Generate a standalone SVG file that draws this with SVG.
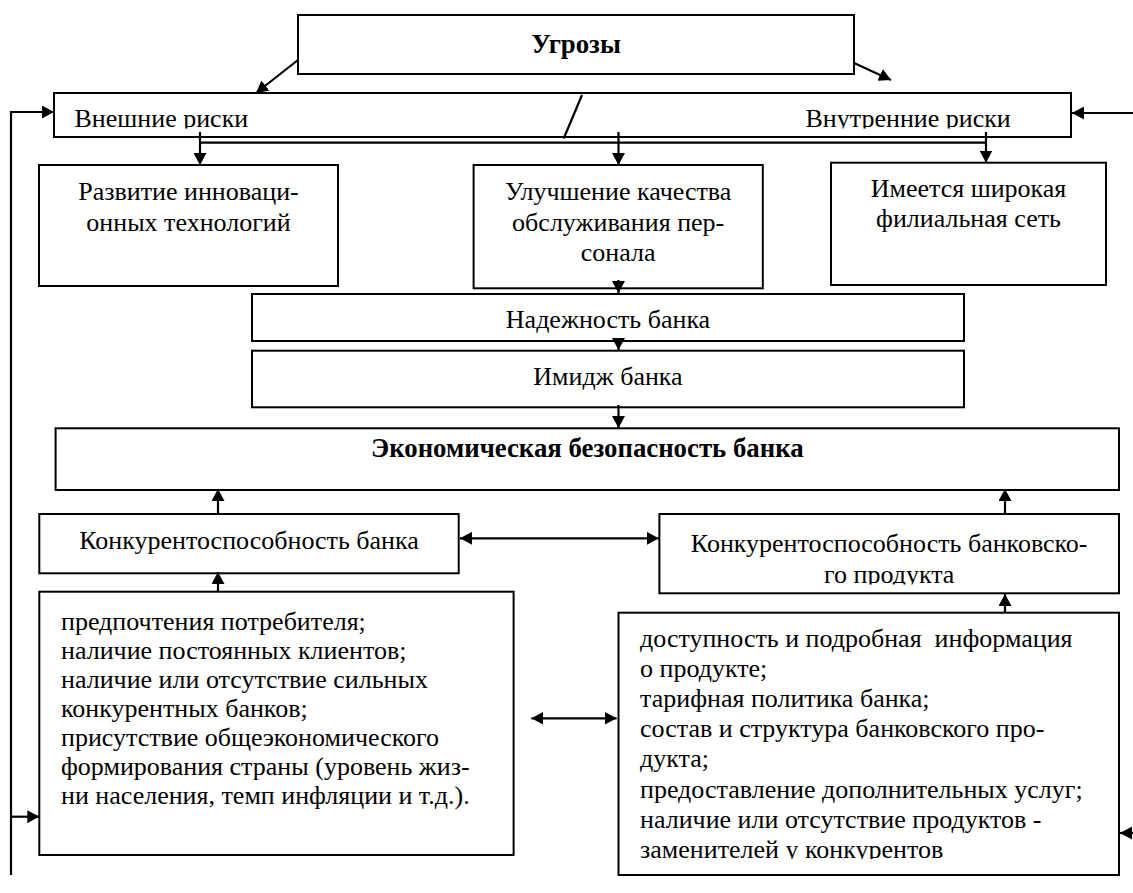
<svg xmlns="http://www.w3.org/2000/svg" width="1133" height="893" viewBox="0 0 1133 893">
<style>
.box{fill:#fff;stroke:#000;stroke-width:2}
.t{font-family:"Liberation Serif","Tinos","Times New Roman","DejaVu Serif",serif;font-size:26px;fill:#000}
.c{text-anchor:middle}
.b{font-weight:bold;font-size:26.8px}
.ln{stroke:#000;stroke-width:2.2;fill:none}
</style>
<defs>
<marker id="ah" viewBox="0 0 12 13" refX="12" refY="6.5" markerWidth="12" markerHeight="13" orient="auto-start-reverse" markerUnits="userSpaceOnUse"><path d="M0,0 L12,6.5 L0,13 z" fill="#000"/></marker>
<clipPath id="clipRisk"><rect x="54" y="93" width="1017" height="35.5"/></clipPath>
<clipPath id="clipKBP"><rect x="659" y="514" width="460" height="70.5"/></clipPath>
<clipPath id="clipRB"><rect x="618" y="612" width="501" height="247"/></clipPath>
</defs>
<rect width="1133" height="893" fill="#fff"/>
<g font-family="Liberation Serif, Tinos, Times New Roman, serif">
<g id="threats"><rect class="box" x="298" y="15" width="556" height="59"/><text class="t c b" x="576" y="53">Угрозы</text></g>
<g id="risks"><rect class="box" x="54" y="93" width="1017" height="44"/>
<g clip-path="url(#clipRisk)"><text class="t" x="74.5" y="127">Внешние риски</text><text class="t" x="805.5" y="127">Внутренние риски</text></g></g>
<g id="innov"><rect class="box" x="39" y="165" width="299" height="121"/><text class="t c" x="188.5" y="200">Развитие инноваци-</text><text class="t c" x="188.5" y="231">онных технологий</text></g>
<g id="quality"><rect class="box" x="473.6" y="165" width="289.2" height="123.3"/><text class="t c" x="618.2" y="200">Улучшение качества</text><text class="t c" x="618.2" y="231">обслуживания пер-</text><text class="t c" x="618.2" y="261">сонала</text></g>
<g id="network"><rect class="box" x="831" y="162.7" width="275" height="122.3"/><text class="t c" x="968.5" y="197">Имеется широкая</text><text class="t c" x="968.5" y="227">филиальная сеть</text></g>
<g id="reliability"><rect class="box" x="252" y="294" width="712" height="47"/><text class="t c" x="608" y="328">Надежность банка</text></g>
<g id="image"><rect class="box" x="252" y="350.7" width="712" height="56.6"/><text class="t c" x="608" y="385">Имидж банка</text></g>
<g id="security"><rect class="box" x="55.6" y="428.3" width="1063.4" height="61.7"/><text class="t c b" x="587.3" y="457">Экономическая безопасность банка</text></g>
<g id="compBank"><rect class="box" x="39.3" y="514" width="419.4" height="59.3"/><text class="t c" x="249" y="549">Конкурентоспособность банка</text></g>
<g id="compProduct"><rect class="box" x="659.4" y="514" width="459.6" height="79.3"/><text class="t c" x="889.2" y="551.5">Конкурентоспособность банковско-</text><g clip-path="url(#clipKBP)"><text class="t c" x="889.2" y="583.3">го продукта</text></g></g>
<g id="factorsBank"><rect class="box" x="39.3" y="591.7" width="474.3" height="263.3"/>
<text class="t" x="61" y="630">предпочтения потребителя;</text>
<text class="t" x="61" y="659">наличие постоянных клиентов;</text>
<text class="t" x="61" y="688">наличие или отсутствие сильных</text>
<text class="t" x="61" y="717">конкурентных банков;</text>
<text class="t" x="61" y="746">присутствие общеэкономического</text>
<text class="t" x="61" y="775">формирования страны (уровень жиз-</text>
<text class="t" x="61" y="804">ни населения, темп инфляции и т.д.).</text></g>
<g id="factorsProduct"><rect class="box" x="618.5" y="612.7" width="500.5" height="262.3"/>
<g clip-path="url(#clipRB)">
<text class="t" x="640" y="646.5" xml:space="preserve">доступность и подробная  информация</text>
<text class="t" x="640" y="676.7">о продукте;</text>
<text class="t" x="640" y="706.9">тарифная политика банка;</text>
<text class="t" x="640" y="737.1">состав и структура банковского про-</text>
<text class="t" x="640" y="767.3">дукта;</text>
<text class="t" x="640" y="797.5">предоставление дополнительных услуг;</text>
<text class="t" x="640" y="827.7">наличие или отсутствие продуктов -</text>
<text class="t" x="640" y="857.9">заменителей у конкурентов</text></g></g>
</g>
<g id="connectors">
<line class="ln" x1="298" y1="60" x2="256" y2="93" marker-end="url(#ah)"/>
<line class="ln" x1="854" y1="63" x2="891" y2="80" marker-end="url(#ah)"/>
<line class="ln" x1="582" y1="95" x2="563.7" y2="138.5"/>
<line class="ln" x1="200" y1="142.7" x2="986" y2="142.7"/>
<line class="ln" x1="200" y1="132" x2="200" y2="165" marker-end="url(#ah)"/>
<line class="ln" x1="618.5" y1="132" x2="618.5" y2="165" marker-end="url(#ah)"/>
<line class="ln" x1="986" y1="132" x2="986" y2="162.7" marker-end="url(#ah)"/>
<line class="ln" x1="618.5" y1="280" x2="618.5" y2="293" marker-end="url(#ah)"/>
<line class="ln" x1="618.5" y1="338" x2="618.5" y2="350" marker-end="url(#ah)"/>
<line class="ln" x1="618.5" y1="405" x2="618.5" y2="428" marker-end="url(#ah)"/>
<line class="ln" x1="218" y1="514" x2="218" y2="489" marker-end="url(#ah)"/>
<line class="ln" x1="1005" y1="514" x2="1005" y2="489" marker-end="url(#ah)"/>
<line class="ln" x1="460" y1="538.3" x2="658.7" y2="538.3" marker-start="url(#ah)" marker-end="url(#ah)"/>
<line class="ln" x1="218" y1="591.7" x2="218" y2="572" marker-end="url(#ah)"/>
<line class="ln" x1="1005" y1="612.7" x2="1005" y2="594" marker-end="url(#ah)"/>
<line class="ln" x1="531.4" y1="718.3" x2="616.6" y2="718.3" marker-start="url(#ah)" marker-end="url(#ah)"/>
<polyline class="ln" points="54,112 11,112 11,875" marker-start="url(#ah)"/>
<line class="ln" x1="11" y1="816.7" x2="39.3" y2="816.7" marker-end="url(#ah)"/>
<line class="ln" x1="1133" y1="113" x2="1072" y2="113" marker-end="url(#ah)"/>
<line class="ln" x1="1133" y1="833" x2="1120" y2="833" marker-end="url(#ah)"/>
</g>
</svg>
